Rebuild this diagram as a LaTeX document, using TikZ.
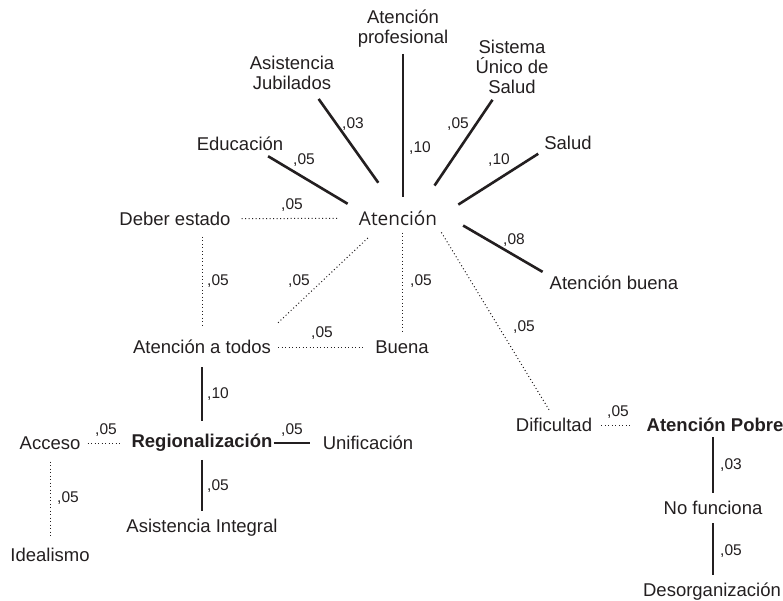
\documentclass[tikz,border=0pt]{standalone}
\usepackage{fontspec}
\setmainfont{Liberation Sans}
\newfontfamily\atenfont{Open Sans}
\definecolor{tinta}{HTML}{231F20}

\begin{document}
\begin{tikzpicture}[x = 1pt, y = -1pt,
    every node/.style = {inner sep=0pt, text=tinta, align=center, font=\fontsize{18.5}{20}\selectfont},
    fuerte/.style = {draw=tinta, line width=2.6pt},
    punteado/.style = {draw=tinta, line width=1pt, dash pattern=on 1pt off 2.5pt},
    peso/.style = {font=\fontsize{15.5}{17}\selectfont}]
    \useasboundingbox (0,0) rectangle (783,600);

    \node (aten) at (398,218) {\atenfont\fontsize{19}{20}\selectfont Atención};
    \node (prof) at (403,29) {Atención\\profesional};
    \node (asjub) at (292,73) {Asistencia\\Jubilados};
    \node (sus) at (512,67) {Sistema\\Único de\\Salud};
    \node (educ) at (240,144) {Educación};
    \node (salud) at (568,143) {Salud};
    \node (deber) at (175,219) {Deber estado};
    \node (abuena) at (614,283) {Atención buena};
    \node (todos) at (202,347) {Atención a todos};
    \node (buena) at (402,347) {Buena};
    \node (dific) at (554,425) {Dificultad};
    \node (pobre) at (715,425) {\bfseries Atención Pobre};
    \node (reg) at (202,443) {\bfseries Regionalización};
    \node (acceso) at (50,443) {Acceso};
    \node (unif) at (368,443) {Unificación};
    \node (asint) at (202,528) {Asistencia Integral};
    \node (ideal) at (50,555) {Idealismo};
    \node (nof) at (713,508) {No funciona};
    \node (desorg) at (712,592) {Desorganización};

    \draw[fuerte, shorten <=10pt, shorten >=13pt] (educ.-20) -- (aten.north west);
    \draw[fuerte, shorten <=11pt, shorten >=34pt] (asjub.-40) -- (aten.north);
    \draw[fuerte, shorten <=6pt, shorten >=13pt] (prof.south) -- (prof.south |- aten.north);
    \draw[fuerte, shorten <=7pt, shorten >=30pt] (sus.-120) -- (aten.21);
    \draw[fuerte, shorten <=7pt, shorten >=25pt] (salud.south west) -- (aten.east);
    \draw[fuerte, shorten <=30pt, shorten >=8pt] (aten.north east) -- (abuena.north west);
    \draw[punteado, shorten <=11pt, shorten >=21pt] (deber) -- (aten);
    \draw[punteado, shorten <=11pt, shorten >=13pt] (todos.north |- deber.south) -- (todos.north);
    \draw[punteado, shorten <=25pt, shorten >=18pt] (todos.7) -- (aten.-156);
    \draw[punteado, shorten <=7pt, shorten >=8pt] (buena.north |- aten.south) -- (buena.north);
    \draw[punteado, shorten <=7pt, shorten >=10pt] (todos) -- (buena);
    \draw[punteado, shorten <=8pt, shorten >=9pt] (aten.south east) -- (dific.north);
    \draw[punteado, shorten <=9pt, shorten >=14pt] (dific) -- (pobre);
    \draw[fuerte, shorten <=5pt, shorten >=8pt] (nof.north |- pobre.south) -- (nof.north);
    \draw[fuerte, shorten <=8pt, shorten >=8pt] (nof.south) -- (nof.south |- desorg.north);
    \draw[fuerte, shorten <=13pt, shorten >=13pt] (todos) -- (reg);
    \draw[punteado, shorten <=7pt, shorten >=9pt] (acceso) -- (reg);
    \draw[fuerte, shorten <=1pt, shorten >=13pt] (reg) -- (unif);
    \draw[fuerte, shorten <=8pt, shorten >=8pt] (reg) -- (asint);
    \draw[punteado, shorten <=12pt, shorten >=10pt] (acceso) -- (ideal);

    \node[peso] (wEduc) at (304,160) {,05};
    \node[peso] (wAsjub) at (353,124) {,03};
    \node[peso] (wProf) at (420,148) {,10};
    \node[peso] (wSus) at (458,124) {,05};
    \node[peso] (wSalud) at (499,160) {,10};
    \node[peso] (wDeber) at (292,205) {,05};
    \node[peso] (wAbuena) at (514,240) {,08};
    \node[peso] (wDeberTodos) at (218,281) {,05};
    \node[peso] (wAtenTodos) at (299,281) {,05};
    \node[peso] (wBuena) at (421,281) {,05};
    \node[peso] (wDific) at (524,327) {,05};
    \node[peso] (wTodosBuena) at (322,333) {,05};
    \node[peso] (wReg) at (218,394) {,10};
    \node[peso] (wAcceso) at (106,430) {,05};
    \node[peso] (wUnif) at (292,430) {,05};
    \node[peso] (wAsint) at (218,486) {,05};
    \node[peso] (wIdeal) at (68,498) {,05};
    \node[peso] (wPobre) at (618,412) {,05};
    \node[peso] (wNof) at (731,465) {,03};
    \node[peso] (wDesorg) at (731,551) {,05};
\end{tikzpicture}
\end{document}
